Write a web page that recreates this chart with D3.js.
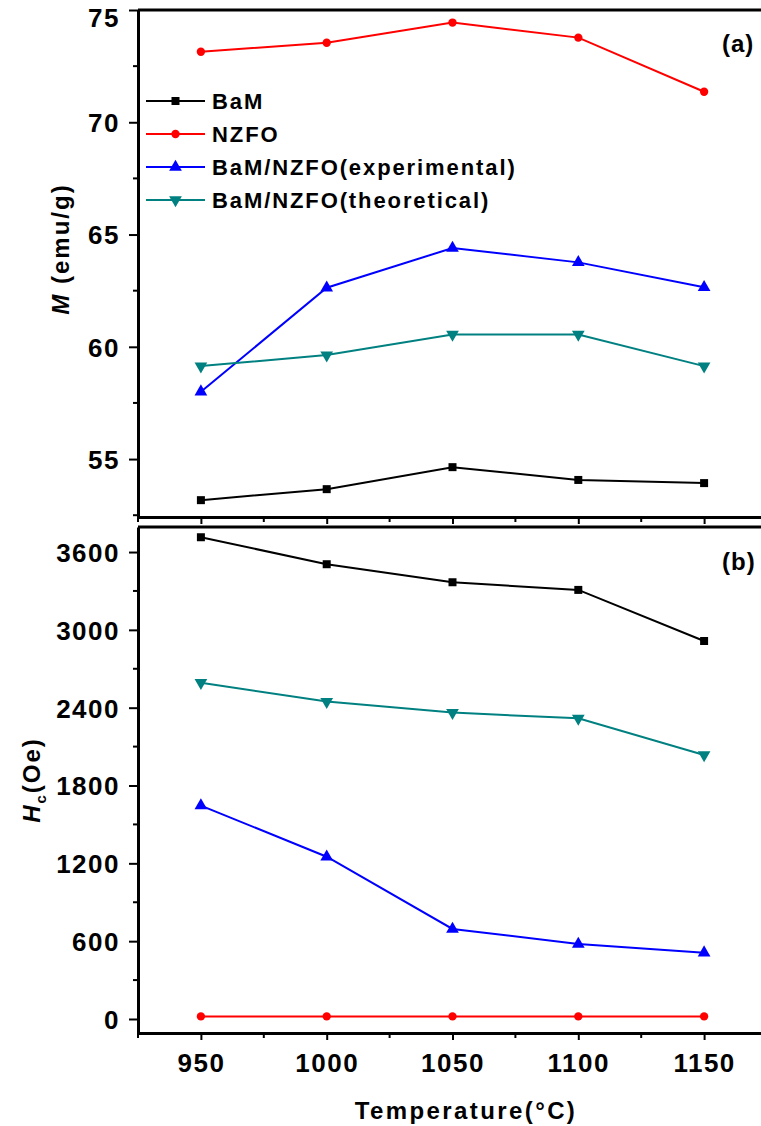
<!DOCTYPE html>
<html>
<head>
<meta charset="utf-8">
<script src="https://cdn.jsdelivr.net/npm/d3@7"></script>
<style>
  body { margin: 0; background: #fff; }
  text { font-family: "Liberation Sans", Arial, sans-serif; font-weight: bold; }
</style>
</head>
<body>
<div id="chart"></div>
<script>
// sintering temperatures
var temps = [950, 1000, 1050, 1100, 1150];

// panel (a) magnetization, emu/g
var mBaM  = [53.17, 53.66, 54.64, 54.07, 53.93];
var mNZFO = [73.14, 73.54, 74.44, 73.77, 71.36];
var mExp  = [58.00, 62.63, 64.40, 63.76, 62.65];
var mTheo = [59.14, 59.63, 60.55, 60.55, 59.14];

// panel (b) coercivity, Oe
var hcBaM  = [3714, 3506, 3367, 3308, 2914];
var hcNZFO = [20, 20, 20, 20, 20];
var hcExp  = [1645, 1251, 694, 578, 511];
var hcTheo = [2593, 2447, 2362, 2318, 2035];

var seriesNames = ["BaM", "NZFO", "BaM/NZFO(experimental)", "BaM/NZFO(theoretical)"];

var xTicks = [950, 1000, 1050, 1100, 1150];
var xMinor = [925, 975, 1025, 1075, 1125, 1175];
var mTicks = [55, 60, 65, 70, 75];
var mMinor = [52.5, 57.5, 62.5, 67.5, 72.5];
var hcTicks = [0, 600, 1200, 1800, 2400, 3000, 3600];
var hcMinor = [300, 900, 1500, 2100, 2700, 3300];

var colors = ["#000000", "#ff0000", "#0000ff", "#008080"];
var shapes = [d3.symbolSquare, d3.symbolCircle, d3.symbolTriangle, d3.symbolTriangle];
var sizes = [64, 55, 70, 70];
var flip = [false, false, false, true]; // theoretical uses down triangle

var w = 761, h = 1126;
var svg = d3.select("#chart").append("svg").attr("width", w).attr("height", h);

var x = d3.scaleLinear().domain([925, 1175]).range([138, 767]);
var yM = d3.scaleLinear().domain([52.42, 75]).range([517, 10]);
var yH = d3.scaleLinear().domain([-108, 3793]).range([1033, 527]);

function drawPanel(y, seriesArr, yt, ymin, showXLabels) {
    var g = svg.append("g");
    var bottom = y.range()[0], top = y.range()[1];

    // top frame line
    g.append("line")
        .attr("x1", x.range()[0]).attr("x2", x.range()[1])
        .attr("y1", top).attr("y2", top)
        .attr("stroke", "#000").attr("stroke-width", 3);

    // minor ticks
    g.selectAll(".mx").data(xMinor).enter().append("line")
        .attr("x1", d => x(d)).attr("x2", d => x(d))
        .attr("y1", bottom).attr("y2", bottom + 5)
        .attr("stroke", "#000").attr("stroke-width", 2);
    g.selectAll(".my").data(ymin).enter().append("line")
        .attr("x1", x.range()[0] - 5).attr("x2", x.range()[0])
        .attr("y1", d => y(d)).attr("y2", d => y(d))
        .attr("stroke", "#000").attr("stroke-width", 2);

    var xa = g.append("g")
        .attr("transform", "translate(0," + bottom + ")")
        .call(d3.axisBottom(x).tickValues(xTicks).tickSize(7).tickSizeOuter(0).tickPadding(10)
            .tickFormat(showXLabels ? d3.format("d") : ""));
    var ya = g.append("g")
        .attr("transform", "translate(" + x.range()[0] + ",0)")
        .call(d3.axisLeft(y).tickValues(yt).tickSize(9).tickSizeOuter(0).tickPadding(9).tickFormat(d3.format("d")));

    [xa, ya].forEach(a => {
        a.select(".domain").attr("stroke-width", 3);
        a.selectAll(".tick line").attr("stroke-width", 2);
        a.selectAll("text")
            .style("font-size", "26px")
            .style("letter-spacing", "1.5px")
            .attr("fill", "#000");
    });
    xa.selectAll("text").attr("dy", "0.85em");
    // keep the topmost label inside the page
    ya.selectAll("text").attr("dy", d => (y(d) - 12 < 0 ? "0.62em" : "0.36em"));

    var line = d3.line().x((d, i) => x(temps[i])).y(d => y(d));

    seriesArr.forEach((vals, k) => {
        g.append("path")
            .datum(vals)
            .attr("fill", "none")
            .attr("stroke", colors[k])
            .attr("stroke-width", 2)
            .attr("d", line);
        g.selectAll(".pt" + k).data(vals).enter().append("path")
            .attr("d", d3.symbol().type(shapes[k]).size(sizes[k]))
            .attr("transform", (d, i) => "translate(" + x(temps[i]) + "," + y(d) + ")" + (flip[k] ? " rotate(180)" : ""))
            .attr("fill", colors[k]);
    });
    return g;
}

drawPanel(yM, [mBaM, mNZFO, mExp, mTheo], mTicks, mMinor, false);
drawPanel(yH, [hcBaM, hcNZFO, hcExp, hcTheo], hcTicks, hcMinor, true);

// legend in panel (a)
var legend = svg.append("g").attr("transform", "translate(146,101)");
seriesNames.forEach((name, k) => {
    var row = legend.append("g").attr("transform", "translate(0," + (k * 33) + ")");
    row.append("line").attr("x1", 0).attr("x2", 59).attr("y1", 0).attr("y2", 0)
        .attr("stroke", colors[k]).attr("stroke-width", 2);
    row.append("path")
        .attr("d", d3.symbol().type(shapes[k]).size(sizes[k]))
        .attr("transform", "translate(29.5,0)" + (flip[k] ? " rotate(180)" : ""))
        .attr("fill", colors[k]);
    row.append("text")
        .attr("x", 66).attr("y", 8)
        .style("font-size", "22px")
        .style("letter-spacing", "1.9px")
        .text(name);
});

// panel tags
svg.append("text").attr("x", 722).attr("y", 52).style("font-size", "24px").style("letter-spacing", "1px").text("(a)");
svg.append("text").attr("x", 722).attr("y", 570).style("font-size", "24px").style("letter-spacing", "1px").text("(b)");

// axis titles
var tM = svg.append("text")
    .attr("transform", "translate(69,249) rotate(-90)")
    .attr("text-anchor", "middle")
    .style("font-size", "24px")
    .style("letter-spacing", "2px");
tM.append("tspan").style("font-style", "italic").text("M");
tM.append("tspan").text(" (emu/g)");

var tH = svg.append("text")
    .attr("transform", "translate(40,780) rotate(-90)")
    .attr("text-anchor", "middle")
    .style("font-size", "24px")
    .style("letter-spacing", "2px");
tH.append("tspan").style("font-style", "italic").text("H");
tH.append("tspan").attr("dy", 6).style("font-size", "15px").text("c");
tH.append("tspan").attr("dy", -6).text("(Oe)");

svg.append("text")
    .attr("x", 466).attr("y", 1119)
    .attr("text-anchor", "middle")
    .style("font-size", "24px")
    .style("letter-spacing", "2.4px")
    .text("Temperature(\u00B0C)");
</script>
</body>
</html>
